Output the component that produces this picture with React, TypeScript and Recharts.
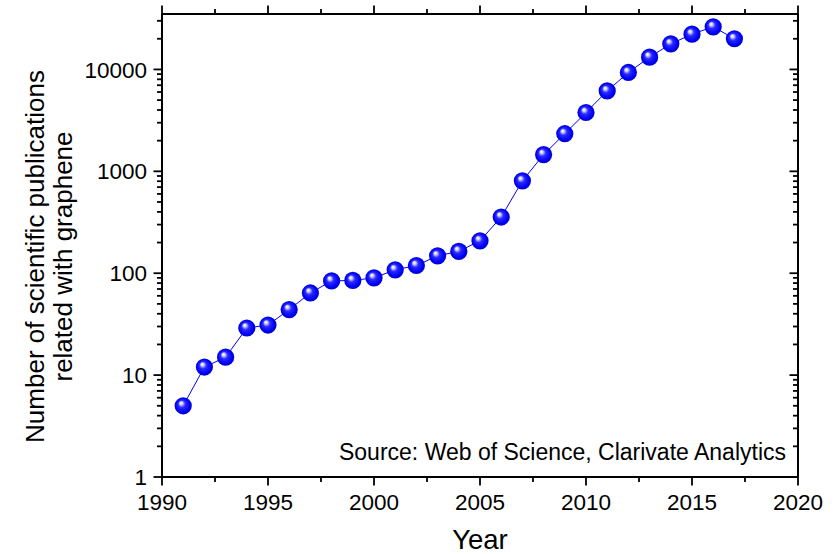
import { LineChart, Line, XAxis, YAxis } from 'recharts';

const years = [
  1991, 1992, 1993, 1994, 1995, 1996, 1997, 1998, 1999, 2000, 2001, 2002, 2003, 2004,
  2005, 2006, 2007, 2008, 2009, 2010, 2011, 2012, 2013, 2014, 2015, 2016, 2017,
];
const publications = [
  5, 12, 15, 29, 31, 44, 64, 84, 85, 90, 108, 119, 148, 164,
  208, 356, 806, 1460, 2340, 3780, 6150, 9340, 13200, 17800, 22200, 26200, 20000,
];

const xMajorTicks = [1990, 1995, 2000, 2005, 2010, 2015, 2020];
const xMinorTicks = [1992.5, 1997.5, 2002.5, 2007.5, 2012.5, 2017.5];
const yMajorTicks = [1, 10, 100, 1000, 10000];
const yMinorTicks = [
  2, 3, 4, 5, 6, 7, 8, 9,
  20, 30, 40, 50, 60, 70, 80, 90,
  200, 300, 400, 500, 600, 700, 800, 900,
  2000, 3000, 4000, 5000, 6000, 7000, 8000, 9000,
  20000, 30000,
];

const data = years.map((year, i) => ({ year, count: publications[i] }));

const font = '"Liberation Sans", Arial, sans-serif';
const ink = '#000';
const blue = '#0000ff';

type Side = 'left' | 'right' | 'top' | 'bottom';

function makeTick(side: Side, majors: number[], showLabel: boolean) {
  return (props: any) => {
    const { x, y, payload } = props;
    const major = majors.includes(payload.value);
    const len = major ? 8.5 : 5;
    let line;
    if (side === 'left') line = <line x1={x - len} x2={x} y1={y} y2={y} />;
    else if (side === 'right') line = <line x1={x - len} x2={x} y1={y} y2={y} />;
    else if (side === 'top') line = <line x1={x} x2={x} y1={y - len} y2={y} />;
    else line = <line x1={x} x2={x} y1={y} y2={y + len} />;
    return (
      <g>
        <g stroke={ink} strokeWidth={1.8}>{line}</g>
        {showLabel && major && side === 'left' && (
          <text x={x - 15} y={y} dy="0.36em" textAnchor="end" fontSize={22.5} fontFamily={font} fill={ink}>
            {payload.value}
          </text>
        )}
        {showLabel && major && side === 'bottom' && (
          <text x={x} y={y + 33} textAnchor="middle" fontSize={22.5} fontFamily={font} fill={ink}>
            {payload.value}
          </text>
        )}
      </g>
    );
  };
}

function renderBall(props: any) {
  const { cx, cy, index } = props;
  if (cx == null || cy == null) return <g key={index} />;
  return <circle key={index} cx={cx} cy={cy} r={8.6} fill="url(#ballGradient)" />;
}

export default function App() {
  const xTicks = [...xMajorTicks, ...xMinorTicks].sort((a, b) => a - b);
  const yTicks = [...yMajorTicks, ...yMinorTicks].sort((a, b) => a - b);
  return (
    <div style={{ width: 839, height: 554 }}>
      <style>{'body{margin:0}'}</style>
      <LineChart width={839} height={554} data={data} margin={{ top: 0, right: 0, bottom: 0, left: 0 }}>
        <defs>
          <radialGradient id="ballGradient" cx="0.5" cy="0.5" r="0.5" fx="0.36" fy="0.32">
            <stop offset="0%" stopColor="#ffffff" />
            <stop offset="16%" stopColor="#d8d8ff" />
            <stop offset="42%" stopColor="#2a2aff" />
            <stop offset="82%" stopColor="#0000f8" />
            <stop offset="100%" stopColor="#0000c8" />
          </radialGradient>
        </defs>
        <XAxis
          xAxisId="bottom"
          dataKey="year"
          type="number"
          domain={[1990, 2020]}
          allowDataOverflow
          ticks={xTicks}
          interval={0}
          height={77}
          tickSize={0}
          tickMargin={0}
          tickLine={false}
          axisLine={{ stroke: ink, strokeWidth: 2 }}
          tick={makeTick('bottom', xMajorTicks, true)}
          label={{
            content: ({ viewBox }: any) => (
              <g fontFamily={font} fill={ink}>
                <text x={viewBox.x + viewBox.width / 2} y={viewBox.y + 72} textAnchor="middle" fontSize={27.5}>
                  Year
                </text>
                <text x={viewBox.x + viewBox.width - 12} y={viewBox.y - 17} textAnchor="end" fontSize={23}>
                  Source: Web of Science, Clarivate Analytics
                </text>
              </g>
            ),
          }}
        />
        <XAxis
          xAxisId="top"
          orientation="top"
          dataKey="year"
          type="number"
          domain={[1990, 2020]}
          allowDataOverflow
          ticks={xTicks}
          interval={0}
          height={14}
          tickSize={0}
          tickMargin={0}
          tickLine={false}
          axisLine={{ stroke: ink, strokeWidth: 2 }}
          tick={makeTick('top', xMajorTicks, false)}
        />
        <YAxis
          yAxisId="left"
          scale="log"
          type="number"
          domain={[1, 35000]}
          allowDataOverflow
          ticks={yTicks}
          interval={0}
          width={162}
          tickSize={0}
          tickMargin={0}
          tickLine={false}
          axisLine={{ stroke: ink, strokeWidth: 2 }}
          tick={makeTick('left', yMajorTicks, true)}
          label={{
            content: ({ viewBox }: any) => {
              const cy = viewBox.y + viewBox.height / 2 + 11;
              return (
                <g fontFamily={font} fill={ink} fontSize={26}>
                  <text x={43.5} y={cy} textAnchor="middle" transform={`rotate(-90, 43.5, ${cy})`}>
                    Number of scientific publications
                  </text>
                  <text x={72} y={cy} textAnchor="middle" transform={`rotate(-90, 72, ${cy})`}>
                    related with graphene
                  </text>
                </g>
              );
            },
          }}
        />
        <YAxis
          yAxisId="right"
          orientation="right"
          scale="log"
          type="number"
          domain={[1, 35000]}
          allowDataOverflow
          ticks={yTicks}
          interval={0}
          width={41}
          tickSize={0}
          tickMargin={0}
          tickLine={false}
          axisLine={{ stroke: ink, strokeWidth: 2 }}
          tick={makeTick('right', yMajorTicks, false)}
        />
        <Line
          xAxisId="bottom"
          yAxisId="left"
          type="linear"
          dataKey="count"
          stroke={blue}
          strokeWidth={1}
          dot={renderBall}
          activeDot={false}
          isAnimationActive={false}
        />
      </LineChart>
    </div>
  );
}
